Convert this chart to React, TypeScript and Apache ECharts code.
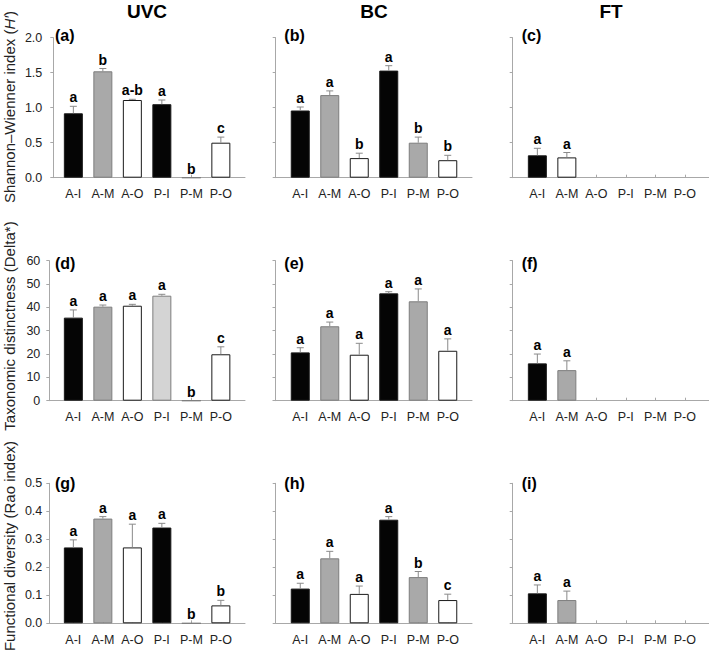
import React, { useEffect, useRef } from 'react';
import * as echarts from 'echarts';

// ---------- data ----------
const categories = ['A-I', 'A-M', 'A-O', 'P-I', 'P-M', 'P-O'];
const columnTitles = ['UVC', 'BC', 'FT'];
const panelTags = ['(a)', '(b)', '(c)', '(d)', '(e)', '(f)', '(g)', '(h)', '(i)'];

const shannonTickLabels = ['0.0', '0.5', '1.0', '1.5', '2.0'];
const deltaTickLabels = ['0', '10', '20', '30', '40', '50', '60'];
const raoTickLabels = ['0.0', '0.1', '0.2', '0.3', '0.4', '0.5'];

const shannonUVC = [0.92, 1.52, 1.11, 1.05, 0, 0.5];
const shannonUVCErr = [0.1, 0.04, 0.01, 0.06, 0, 0.08];
const shannonUVCLetters = ['a', 'b', 'a-b', 'a', 'b', 'c'];
const shannonBC = [0.96, 1.18, 0.28, 1.53, 0.5, 0.25];
const shannonBCErr = [0.05, 0.06, 0.07, 0.07, 0.08, 0.07];
const shannonBCLetters = ['a', 'a', 'b', 'a', 'b', 'b'];
const shannonFT = [0.32, 0.29, null, null, null, null];
const shannonFTErr = [0.1, 0.07, null, null, null, null];
const shannonFTLetters = ['a', 'a', '', '', '', ''];

const deltaUVC = [35.6, 40.3, 40.7, 45.0, 0, 19.9];
const deltaUVCErr = [3.3, 0.7, 0.6, 0.6, 0, 3.2];
const deltaUVCLetters = ['a', 'a', 'a', 'a', 'b', 'c'];
const deltaBC = [20.7, 31.9, 19.7, 46.0, 42.6, 21.4];
const deltaBCErr = [2.0, 1.8, 4.9, 0.7, 5.3, 5.1];
const deltaBCLetters = ['a', 'a', 'a', 'a', 'a', 'a'];
const deltaFT = [16.0, 13.1, null, null, null, null];
const deltaFTErr = [4.0, 4.0, null, null, null, null];
const deltaFTLetters = ['a', 'a', '', '', '', ''];

const raoUVC = [0.271, 0.374, 0.271, 0.342, 0, 0.064];
const raoUVCErr = [0.027, 0.007, 0.083, 0.015, 0, 0.018];
const raoUVCLetters = ['a', 'a', 'a', 'a', 'b', 'b'];
const raoBC = [0.124, 0.232, 0.105, 0.37, 0.165, 0.083];
const raoBCErr = [0.019, 0.025, 0.028, 0.011, 0.02, 0.021];
const raoBCLetters = ['a', 'a', 'a', 'a', 'b', 'c'];
const raoFT = [0.107, 0.083, null, null, null, null];
const raoFTErr = [0.03, 0.032, null, null, null, null];
const raoFTLetters = ['a', 'a', '', '', '', ''];

// ---------- layout & style ----------
const FONT = 'Arial, "Liberation Sans", Helvetica, sans-serif';
const AXIS_COLOR = '#a8a8a8';
const TEXT_COLOR = '#222';
const ERR_COLOR = '#8a8a8a';

const rows = [
  {
    title: 'Shannon–Wienner index ({i|H′})',
    titleY: 107,
    top: 37.7,
    max: 2,
    interval: 0.5,
    ticks: shannonTickLabels,
    labelMargin: 11,
    axisLeft: [53.3, 275.7, 512.7],
    tagY: 35,
    panels: [
      { values: shannonUVC, errs: shannonUVCErr, letters: shannonUVCLetters },
      { values: shannonBC, errs: shannonBCErr, letters: shannonBCLetters },
      { values: shannonFT, errs: shannonFTErr, letters: shannonFTLetters, fillOverride: { 1: '#ffffff' } },
    ],
  },
  {
    title: 'Taxonomic distinctness (Delta*)',
    titleY: 326,
    top: 260.7,
    max: 60,
    interval: 10,
    ticks: deltaTickLabels,
    labelMargin: 9,
    axisLeft: [49.3, 275.5, 512.7],
    tagY: 263,
    panels: [
      { values: deltaUVC, errs: deltaUVCErr, letters: deltaUVCLetters, fillOverride: { 3: '#d4d4d4' } },
      { values: deltaBC, errs: deltaBCErr, letters: deltaBCLetters },
      { values: deltaFT, errs: deltaFTErr, letters: deltaFTLetters },
    ],
  },
  {
    title: 'Functional diversity (Rao index)',
    titleY: 546,
    top: 483.3,
    max: 0.5,
    interval: 0.1,
    ticks: raoTickLabels,
    labelMargin: 7,
    axisLeft: [49.3, 275.7, 512.7],
    tagY: 483,
    panels: [
      { values: raoUVC, errs: raoUVCErr, letters: raoUVCLetters },
      { values: raoBC, errs: raoBCErr, letters: raoBCLetters },
      { values: raoFT, errs: raoFTErr, letters: raoFTLetters },
    ],
  },
];

const PLOT_H = 140;
const barLeft = [58.6, 285.5, 522.6];
const barGridWidth = 177;
const axisRight = [245, 472, 709];
const titleX = [147, 374, 611];
const tagX = [55, 284.3, 521.7];
const defaultFill = ['#050505', '#a9a9a9', '#ffffff', '#050505', '#a9a9a9', '#ffffff'];
const fillBorder = (c: string) => (c === '#a9a9a9' || c === '#d4d4d4' ? '#7d7d7d' : '#1a1a1a');

function buildOption() {
  const grid: any[] = [];
  const xAxis: any[] = [];
  const yAxis: any[] = [];
  const series: any[] = [];
  const graphic: any[] = [];

  columnTitles.forEach((t, c) => {
    graphic.push({
      type: 'text',
      x: titleX[c],
      y: 11,
      style: { text: t, fontSize: 19, fontWeight: 'bold', fontFamily: FONT, fill: '#000', align: 'center', verticalAlign: 'middle' },
    });
  });

  rows.forEach((row, r) => {
    graphic.push({
      type: 'text',
      x: 9,
      y: row.titleY,
      rotation: Math.PI / 2,
      style: {
        text: row.title,
        fontSize: 15,
        fontFamily: FONT,
        fill: TEXT_COLOR,
        align: 'center',
        verticalAlign: 'middle',
        rich: { i: { fontStyle: 'italic', fontSize: 15, fontFamily: FONT, fill: TEXT_COLOR } },
      },
    });

    row.panels.forEach((p: any, c: number) => {
      const idx = r * 3 + c;
      graphic.push({
        type: 'text',
        x: tagX[c],
        y: row.tagY,
        style: { text: panelTags[idx], fontSize: 16, fontWeight: 'bold', fontFamily: FONT, fill: '#000', align: 'left', verticalAlign: 'middle' },
      });

      // axis grid (axis lines)
      const ag = grid.length;
      grid.push({ left: row.axisLeft[c], top: row.top, width: axisRight[c] - row.axisLeft[c], height: PLOT_H, outerBoundsMode: 'none' });
      xAxis.push({
        type: 'value', gridIndex: ag, min: 0, max: 1, position: 'bottom',
        axisLine: { show: true, onZero: false, lineStyle: { color: AXIS_COLOR, width: 1 } },
        axisTick: { show: false }, axisLabel: { show: false }, splitLine: { show: false },
      });
      yAxis.push({
        type: 'value', gridIndex: ag, min: 0, max: row.max, interval: row.interval, position: 'left',
        axisLine: { show: true, lineStyle: { color: AXIS_COLOR, width: 1 } },
        axisTick: { show: true, inside: false, length: 3, lineStyle: { color: AXIS_COLOR } },
        axisLabel: {
          show: c === 0, margin: row.labelMargin, fontSize: 12.5, fontFamily: FONT, color: TEXT_COLOR,
          formatter: (v: number) => row.ticks[Math.round(v / row.interval)] ?? '',
        },
        splitLine: { show: false },
      });

      // bar grid
      const bg = grid.length;
      grid.push({ left: barLeft[c], top: row.top, width: barGridWidth, height: PLOT_H, outerBoundsMode: 'none' });
      const bx = xAxis.length;
      xAxis.push({
        type: 'category', gridIndex: bg, data: categories, boundaryGap: true,
        axisLine: { show: false },
        axisTick: { show: true, inside: true, alignWithLabel: true, length: 3, lineStyle: { color: AXIS_COLOR } },
        axisLabel: { show: true, margin: 10, fontSize: 12.5, fontFamily: FONT, color: TEXT_COLOR, interval: 0 },
        splitLine: { show: false },
      });
      const by = yAxis.length;
      yAxis.push({
        type: 'value', gridIndex: bg, min: 0, max: row.max, interval: row.interval, show: false,
        splitLine: { show: false },
      });

      const fills = categories.map((_, i) => (p.fillOverride && p.fillOverride[i]) || defaultFill[i]);
      series.push({
        type: 'bar', xAxisIndex: bx, yAxisIndex: by, barWidth: 19, silent: true,
        data: p.values.map((v: number | null, i: number) =>
          v === null ? '-' : { value: v, itemStyle: { color: fills[i], borderColor: fillBorder(fills[i]), borderWidth: 1 } }
        ),
      });

      const letters: string[] = p.letters;
      const customData: any[] = [];
      p.values.forEach((v: number | null, i: number) => {
        if (v !== null) customData.push([i, v, p.errs[i] ?? 0]);
      });
      series.push({
        type: 'custom', xAxisIndex: bx, yAxisIndex: by, clip: false, silent: true, z: 5,
        encode: { x: 0, y: 1 },
        data: customData,
        renderItem: (params: any, api: any) => {
          const i = api.value(0);
          const v = api.value(1);
          const e = api.value(2);
          const base = api.coord([i, v]);
          const top = api.coord([i, v + e]);
          const children: any[] = [];
          if (e > 0) {
            children.push({ type: 'line', shape: { x1: base[0], y1: base[1], x2: top[0], y2: top[1] }, style: { stroke: ERR_COLOR, lineWidth: 1 } });
            children.push({ type: 'line', shape: { x1: top[0] - 3.5, y1: top[1], x2: top[0] + 3.5, y2: top[1] }, style: { stroke: ERR_COLOR, lineWidth: 1 } });
          }
          children.push({
            type: 'text', x: top[0], y: top[1] - 2,
            style: { text: letters[i], fontSize: 14, fontWeight: 'bold', fontFamily: FONT, fill: '#000', align: 'center', verticalAlign: 'bottom' },
          });
          return { type: 'group', children };
        },
      });
    });
  });

  return { animation: false, backgroundColor: '#ffffff', grid, xAxis, yAxis, series, graphic };
}

export default function App() {
  const ref = useRef<HTMLDivElement>(null);
  useEffect(() => {
    document.body.style.margin = '0';
    if (!ref.current) return;
    const chart = echarts.init(ref.current, undefined, { renderer: 'svg' });
    chart.setOption(buildOption() as any);
    return () => chart.dispose();
  }, []);
  return <div ref={ref} style={{ width: 709, height: 656 }} />;
}
